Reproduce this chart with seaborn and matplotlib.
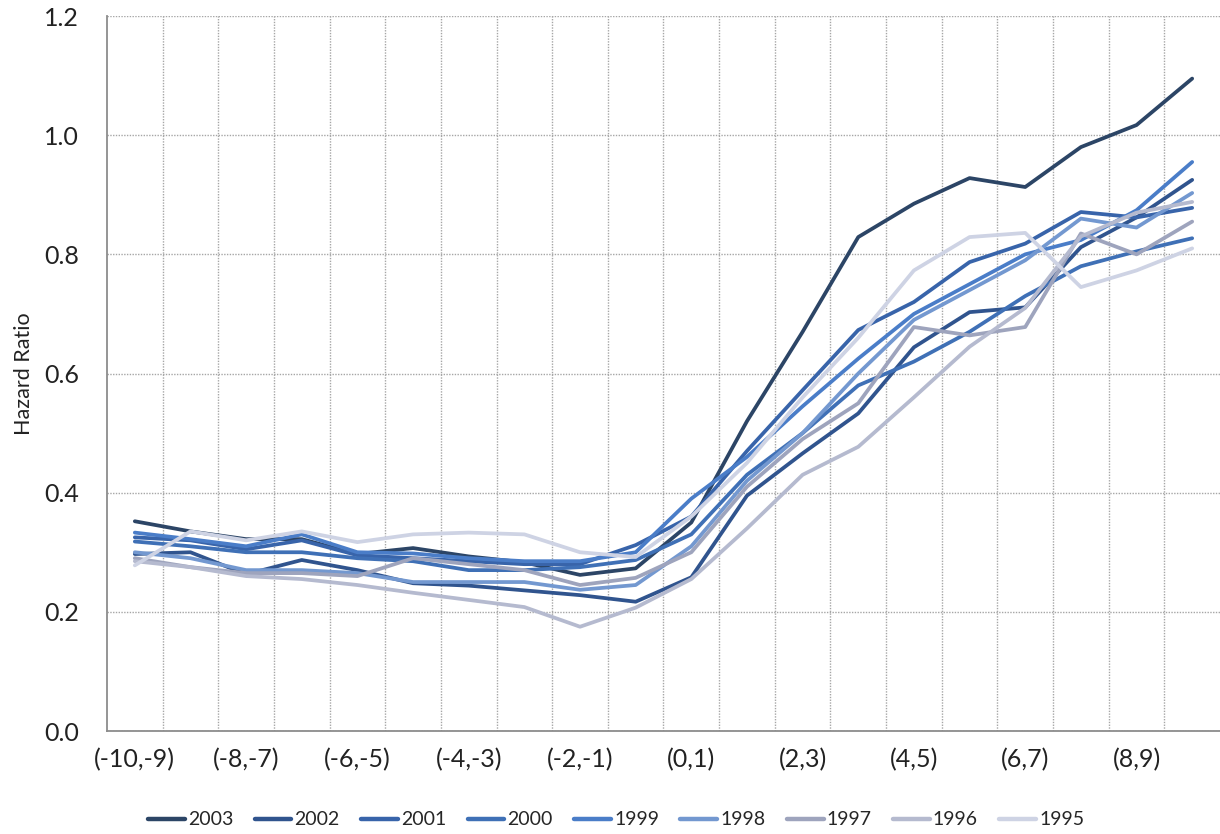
import matplotlib
matplotlib.use("Agg")
import matplotlib.pyplot as plt
import numpy as np
import pandas as pd
import seaborn as sns
from matplotlib.ticker import FixedLocator, FormatStrFormatter

# Event-time windows (years relative to event)
windows = ["(-10,-9)", "(-9,-8)", "(-8,-7)", "(-7,-6)", "(-6,-5)", "(-5,-4)", "(-4,-3)",
           "(-3,-2)", "(-2,-1)", "(-1,0)", "(0,1)", "(1,2)", "(2,3)", "(3,4)", "(4,5)",
           "(5,6)", "(6,7)", "(7,8)", "(8,9)", "(9,10)"]

# Hazard ratios by cohort year
hr_2003 = [0.352, 0.335, 0.322, 0.322, 0.297, 0.307, 0.293, 0.283, 0.262, 0.273,
           0.350, 0.520, 0.670, 0.829, 0.885, 0.928, 0.913, 0.980, 1.017, 1.095]
hr_2002 = [0.297, 0.300, 0.263, 0.287, 0.270, 0.248, 0.244, 0.236, 0.228, 0.217,
           0.258, 0.395, 0.466, 0.533, 0.644, 0.703, 0.711, 0.812, 0.862, 0.925]
hr_2001 = [0.325, 0.320, 0.305, 0.320, 0.295, 0.290, 0.285, 0.280, 0.280, 0.312,
           0.360, 0.470, 0.572, 0.673, 0.720, 0.787, 0.818, 0.871, 0.862, 0.878]
hr_2000 = [0.318, 0.310, 0.300, 0.300, 0.290, 0.285, 0.270, 0.270, 0.275, 0.287,
           0.330, 0.430, 0.500, 0.580, 0.620, 0.670, 0.730, 0.780, 0.805, 0.827]
hr_1999 = [0.333, 0.322, 0.310, 0.330, 0.300, 0.298, 0.290, 0.285, 0.285, 0.300,
           0.390, 0.460, 0.545, 0.625, 0.700, 0.750, 0.800, 0.824, 0.874, 0.955]
hr_1998 = [0.300, 0.290, 0.270, 0.270, 0.265, 0.250, 0.250, 0.250, 0.237, 0.245,
           0.310, 0.420, 0.500, 0.600, 0.690, 0.740, 0.790, 0.860, 0.845, 0.903]
hr_1997 = [0.290, 0.275, 0.265, 0.265, 0.260, 0.290, 0.280, 0.270, 0.245, 0.257,
           0.300, 0.410, 0.490, 0.550, 0.678, 0.664, 0.678, 0.835, 0.800, 0.855]
hr_1996 = [0.285, 0.275, 0.260, 0.255, 0.245, 0.232, 0.220, 0.208, 0.175, 0.207,
           0.255, 0.340, 0.430, 0.477, 0.560, 0.645, 0.710, 0.830, 0.870, 0.888]
hr_1995 = [0.278, 0.335, 0.320, 0.335, 0.317, 0.330, 0.333, 0.330, 0.300, 0.292,
           0.360, 0.450, 0.560, 0.660, 0.773, 0.829, 0.836, 0.745, 0.773, 0.810]

years = ["2003", "2002", "2001", "2000", "1999", "1998", "1997", "1996", "1995"]
series = [hr_2003, hr_2002, hr_2001, hr_2000, hr_1999, hr_1998, hr_1997, hr_1996, hr_1995]
colors = ["#2C4566", "#30548E", "#3864AA", "#3F70B6", "#4A7DC8", "#7398D0",
          "#9EA4BD", "#B5BACF", "#CED3E4"]

rows = []
for yr, vals in zip(years, series):
    for i, v in enumerate(vals):
        rows.append({"pos": i, "year": yr, "hr": v})
df = pd.DataFrame(rows)

sns.set_theme(style="white")
plt.rcParams["font.family"] = ["Lato", "DejaVu Sans"]

fig = plt.figure(figsize=(12.2, 8.34), dpi=100)
ax = fig.add_axes([0.0877, 0.1235, 0.9123, 0.8573])

sns.lineplot(data=df, x="pos", y="hr", hue="year", hue_order=years,
             palette=dict(zip(years, colors)), linewidth=2.7, ax=ax,
             legend=True)

ax.set_xlim(-0.5, len(windows) - 0.5)
ax.set_ylim(0, 1.2)

# x: labels on every other window, dotted gridlines between windows
ax.xaxis.set_major_locator(FixedLocator(list(range(0, len(windows), 2))))
ax.set_xticklabels(windows[::2])
ax.xaxis.set_minor_locator(FixedLocator([i + 0.5 for i in range(len(windows) - 1)]))
ax.set_yticks(np.arange(0, 1.21, 0.2))
ax.yaxis.set_major_formatter(FormatStrFormatter("%.1f"))

ax.grid(False)
ax.grid(which="minor", axis="x", color="#A6A6A6", linestyle=(0, (1, 1)), linewidth=1.0)
ax.grid(which="major", axis="y", color="#A6A6A6", linestyle=(0, (1, 1)), linewidth=1.0)
ax.set_axisbelow(True)

ax.tick_params(axis="x", which="both", length=0, pad=12, labelsize=18, labelcolor="#222222")
ax.tick_params(axis="y", which="both", length=0, pad=20, labelsize=18, labelcolor="#222222")

for side in ["top", "right"]:
    ax.spines[side].set_visible(False)
for side in ["left", "bottom"]:
    ax.spines[side].set_color("#8C8C8C")
    ax.spines[side].set_linewidth(1.3)

ax.set_xlabel("")
ax.set_ylabel("Hazard Ratio", fontsize=15.5, color="#222222")
ax.yaxis.set_label_coords(-0.066, 0.5)

handles, labels = ax.get_legend_handles_labels()
ax.get_legend().remove()
for h in handles:
    h.set_linewidth(3.2)
fig.legend(handles, labels, loc="center", bbox_to_anchor=(0.505, 0.017), ncol=9,
           frameon=False, fontsize=14, handlelength=1.9, handletextpad=0.15,
           columnspacing=1.1)

fig.savefig("out.png", dpi=100)
